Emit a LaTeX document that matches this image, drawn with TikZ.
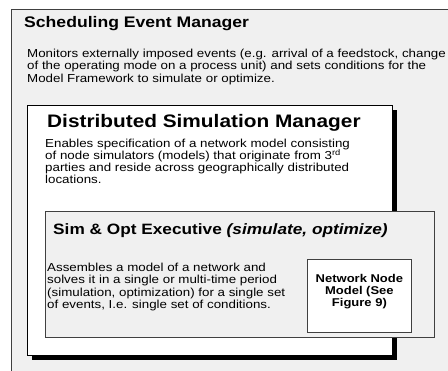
\documentclass[tikz,border=0pt]{standalone}
\usepackage{fontspec}
\setmainfont{Liberation Sans}
\newfontfamily\widesans[FakeStretch=1.15]{Liberation Sans}
\newcommand\mybodyfont{\widesans\fontsize{11.6}{12.6}\selectfont\lineskiplimit -20pt\relax}
\newcommand\mybodyfontb{\widesans\fontsize{11.6}{12}\selectfont\lineskiplimit -20pt\relax}
\newcommand\mynnfont{\widesans\fontsize{11.3}{12}\selectfont\bfseries\lineskiplimit -20pt\relax}
\begin{document}
\begin{tikzpicture}[x=1pt,y=-1pt,
  panel/.style={draw=black!75,line width=0.8pt,fill=black!6},
  whitebox/.style={draw=black,line width=0.8pt,fill=white},
  shadowbox/.style={fill=black},
  heading/.style={anchor=base west,inner sep=0pt},
  body/.style={anchor=base west,inner sep=0pt,align=left,font=\mybodyfont},
]
\useasboundingbox (0,0) rectangle (448,371);
\clip (0,0) rectangle (448,371);
\fill[white] (0,0) rectangle (448,371);
% outer panel
\draw[panel] (11,9) rectangle (460,380);
\node[heading,font=\widesans\fontsize{15.3}{18}\selectfont\bfseries] (t1) at (24,28) {Scheduling Event Manager};
\node[body] (b1) at (27,82.5) {Monitors externally imposed events (e.g. arrival of a feedstock, change\\of the operating mode on a process unit) and sets conditions for the\\Model Framework to simulate or optimize.};
% distributed simulation manager
\fill[shadowbox] (32,110) rectangle (397,360);
\draw[whitebox] (27,105) rectangle (392,355);
\node[heading,font=\widesans\fontsize{18.1}{21}\selectfont\bfseries] (t2) at (47,127.5) {Distributed Simulation Manager};
\node[body,font=\mybodyfontb] (b2) at (45,184) {Enables specification of a network model consisting\\of node simulators (models) that originate from 3\textsuperscript{rd}\\parties and reside across geographically distributed\\locations.};
% sim & opt executive
\draw[panel] (45,211) rectangle (434,337);
\node[heading,font=\widesans\fontsize{15}{18}\selectfont\bfseries] (t3) at (53,235) {Sim \& Opt Executive \textit{(simulate, optimize)}};
\node[body] (b3) at (47,309) {Assembles a model of a network and\\solves it in a single or multi-time period\\(simulation, optimization) for a single set\\of events, I.e. single set of conditions.};
% network node model
\node[draw=black!75,line width=0.8pt,fill=white,minimum width=104pt,minimum height=73pt,inner sep=0pt,anchor=north west] (nn) at (307,259) {};
\node[align=center,inner sep=0pt,font=\mynnfont,yshift=4pt] (nnt) at (nn.center) {Network Node\\Model (See\\Figure 9)};
\end{tikzpicture}
\end{document}
